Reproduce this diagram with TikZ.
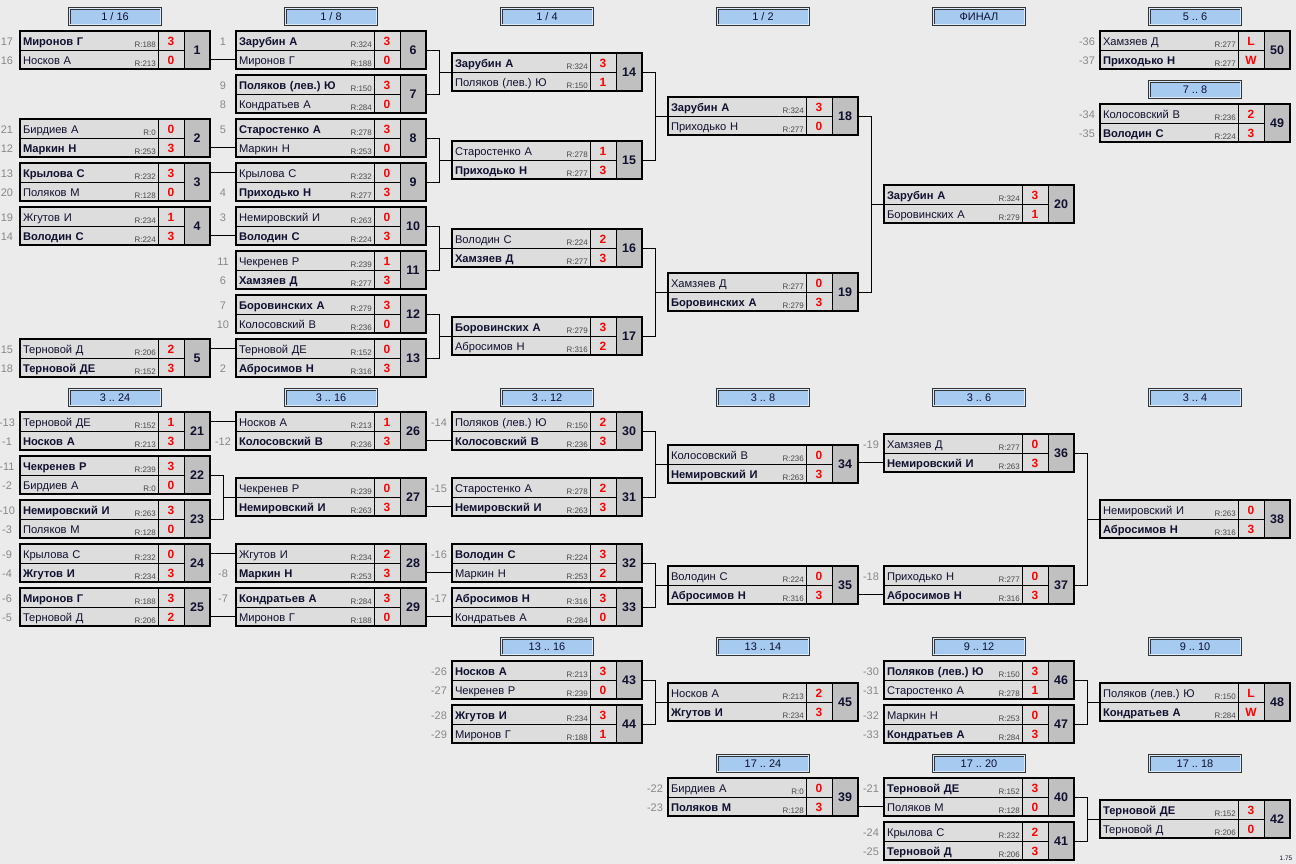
\documentclass[tikz,border=0pt]{standalone}
\usepackage{fontspec}
\setmainfont{Liberation Sans}
\frenchspacing

\definecolor{fondo}{RGB}{235,235,235}
\definecolor{celda}{RGB}{221,221,221}
\definecolor{numgris}{RGB}{192,192,192}
\definecolor{azulronda}{RGB}{166,202,240}
\definecolor{tinta}{RGB}{16,16,48}
\definecolor{siembragris}{RGB}{136,136,136}
\definecolor{rgris}{RGB}{72,72,72}

\tikzset{
  marco/.style={anchor=north west, minimum width=190bp, minimum height=38bp, inner sep=0pt, outer sep=0pt},
  borde/.style={line width=2.2bp, black},
  numero/.style={anchor=north east, draw=black, line width=2bp, fill=numgris, minimum width=26bp, minimum height=38bp,
    inner sep=0pt, outer sep=0pt, text height=9bp, text depth=0bp, font=\bfseries\fontsize{12.5}{13}\selectfont, text=tinta},
  nombre/.style={anchor=north west, draw=black, line width=0.8bp, fill=celda, minimum width=138bp, minimum height=19bp,
    text width=132bp, inner xsep=3bp, inner ysep=0pt, outer sep=0pt, align=left, text height=10bp, text depth=0bp,
    font=\fontsize{11.2}{12}\selectfont, text=tinta},
  puntos/.style={anchor=west, draw=black, line width=0.8bp, fill=celda, minimum width=26bp, minimum height=19bp,
    inner sep=0pt, outer sep=0pt, text height=10bp, text depth=0bp, font=\bfseries\fontsize{12}{13}\selectfont, text=red},
  rating/.style={anchor=base east, xshift=-2bp, yshift=2.5bp, inner sep=0pt, font=\fontsize{8}{8}\selectfont, text=rgris},
  siembra/.style={inner sep=0pt, text height=10bp, text depth=0bp, font=\fontsize{11}{12}\selectfont, text=siembragris},
  ronda/.style={draw=black!80, line width=0.7bp, double=azulronda!40!white, double distance=1.1bp, fill=azulronda,
    minimum width=91.5bp, minimum height=16.5bp, inner sep=0pt, font=\fontsize{11}{12}\selectfont, text=tinta},
  linea/.style={line width=0.9bp, black},
}

\newcommand{\partido}[3]{%
  \node[marco] (m#1) at (#2,#3) {};
  \node[numero] (n#1) at (m#1.north east) {#1};
}
\newcommand{\fila}[6]{%
  \node[nombre] (m#1) at (#2) {#4};
  \node[rating] (m#1r) at (m#1.south east) {R:#5};
  \node[puntos] (m#1s) at (m#1.east) {#6};
  \node[siembra] (m#1p) at ([xshift=-13bp]m#1.west) {#3};
}
\newcommand{\jugadores}[9]{%
  \fila{#1a}{m#1.north west}{#2}{#3}{#4}{#5}%
  \fila{#1b}{m#1.west}{#6}{#7}{#8}{#9}%
}

\begin{document}
\begin{tikzpicture}[x=1bp, y=-1bp]
        % Fondo
        \fill[fondo] (0,0) rectangle (1296,864);
        \useasboundingbox (0,0) rectangle (1296,864);

        % Encabezados de ronda
        \node[ronda] (h116) at (115,16.5) {1 / 16};
        \node[ronda] (h18) at (331,16.5) {1 / 8};
        \node[ronda] (h14) at (547,16.5) {1 / 4};
        \node[ronda] (h12) at (763,16.5) {1 / 2};
        \node[ronda] (hfin) at (979,16.5) {ФИНАЛ};
        \node[ronda] (h56) at (1195,16.5) {5 .. 6};
        \node[ronda] (h78) at (1195,89.5) {7 .. 8};
        \node[ronda] (h324) at (115,397.5) {3 .. 24};
        \node[ronda] (h316) at (331,397.5) {3 .. 16};
        \node[ronda] (h312) at (547,397.5) {3 .. 12};
        \node[ronda] (h38) at (763,397.5) {3 .. 8};
        \node[ronda] (h36) at (979,397.5) {3 .. 6};
        \node[ronda] (h34) at (1195,397.5) {3 .. 4};
        \node[ronda] (h1316) at (547,646.5) {13 .. 16};
        \node[ronda] (h1314) at (763,646.5) {13 .. 14};
        \node[ronda] (h912) at (979,646.5) {9 .. 12};
        \node[ronda] (h910) at (1195,646.5) {9 .. 10};
        \node[ronda] (h1724) at (763,763.5) {17 .. 24};
        \node[ronda] (h1720) at (979,763.5) {17 .. 20};
        \node[ronda] (h1718) at (1195,763.5) {17 .. 18};

        % Cuadro principal
        \partido{1}{20}{31}
        \jugadores{1}{17}{\textbf{Миронов Г}}{188}{3}{16}{Носков А}{213}{0}
        \partido{2}{20}{119}
        \jugadores{2}{21}{Бирдиев А}{0}{0}{12}{\textbf{Маркин Н}}{253}{3}
        \partido{3}{20}{163}
        \jugadores{3}{13}{\textbf{Крылова С}}{232}{3}{20}{Поляков М}{128}{0}
        \partido{4}{20}{207}
        \jugadores{4}{19}{Жгутов И}{234}{1}{14}{\textbf{Володин С}}{224}{3}
        \partido{5}{20}{339}
        \jugadores{5}{15}{Терновой Д}{206}{2}{18}{\textbf{Терновой ДЕ}}{152}{3}

        \partido{6}{236}{31}
        \jugadores{6}{1}{\textbf{Зарубин А}}{324}{3}{}{Миронов Г}{188}{0}
        \partido{7}{236}{75}
        \jugadores{7}{9}{\textbf{Поляков (лев.) Ю}}{150}{3}{8}{Кондратьев А}{284}{0}
        \partido{8}{236}{119}
        \jugadores{8}{5}{\textbf{Старостенко А}}{278}{3}{}{Маркин Н}{253}{0}
        \partido{9}{236}{163}
        \jugadores{9}{}{Крылова С}{232}{0}{4}{\textbf{Приходько Н}}{277}{3}
        \partido{10}{236}{207}
        \jugadores{10}{3}{Немировский И}{263}{0}{}{\textbf{Володин С}}{224}{3}
        \partido{11}{236}{251}
        \jugadores{11}{11}{Чекренев Р}{239}{1}{6}{\textbf{Хамзяев Д}}{277}{3}
        \partido{12}{236}{295}
        \jugadores{12}{7}{\textbf{Боровинских А}}{279}{3}{10}{Колосовский В}{236}{0}
        \partido{13}{236}{339}
        \jugadores{13}{}{Терновой ДЕ}{152}{0}{2}{\textbf{Абросимов Н}}{316}{3}

        \partido{14}{452}{53}
        \jugadores{14}{}{\textbf{Зарубин А}}{324}{3}{}{Поляков (лев.) Ю}{150}{1}
        \partido{15}{452}{141}
        \jugadores{15}{}{Старостенко А}{278}{1}{}{\textbf{Приходько Н}}{277}{3}
        \partido{16}{452}{229}
        \jugadores{16}{}{Володин С}{224}{2}{}{\textbf{Хамзяев Д}}{277}{3}
        \partido{17}{452}{317}
        \jugadores{17}{}{\textbf{Боровинских А}}{279}{3}{}{Абросимов Н}{316}{2}

        \partido{18}{668}{97}
        \jugadores{18}{}{\textbf{Зарубин А}}{324}{3}{}{Приходько Н}{277}{0}
        \partido{19}{668}{273}
        \jugadores{19}{}{Хамзяев Д}{277}{0}{}{\textbf{Боровинских А}}{279}{3}
        \partido{20}{884}{185}
        \jugadores{20}{}{\textbf{Зарубин А}}{324}{3}{}{Боровинских А}{279}{1}

        \partido{50}{1100}{31}
        \jugadores{50}{-36}{Хамзяев Д}{277}{L}{-37}{\textbf{Приходько Н}}{277}{W}
        \partido{49}{1100}{104}
        \jugadores{49}{-34}{Колосовский В}{236}{2}{-35}{\textbf{Володин С}}{224}{3}

        % Consolacion 3 .. 24
        \partido{21}{20}{412}
        \jugadores{21}{-13}{Терновой ДЕ}{152}{1}{-1}{\textbf{Носков А}}{213}{3}
        \partido{22}{20}{456}
        \jugadores{22}{-11}{\textbf{Чекренев Р}}{239}{3}{-2}{Бирдиев А}{0}{0}
        \partido{23}{20}{500}
        \jugadores{23}{-10}{\textbf{Немировский И}}{263}{3}{-3}{Поляков М}{128}{0}
        \partido{24}{20}{544}
        \jugadores{24}{-9}{Крылова С}{232}{0}{-4}{\textbf{Жгутов И}}{234}{3}
        \partido{25}{20}{588}
        \jugadores{25}{-6}{\textbf{Миронов Г}}{188}{3}{-5}{Терновой Д}{206}{2}

        \partido{26}{236}{412}
        \jugadores{26}{}{Носков А}{213}{1}{-12}{\textbf{Колосовский В}}{236}{3}
        \partido{27}{236}{478}
        \jugadores{27}{}{Чекренев Р}{239}{0}{}{\textbf{Немировский И}}{263}{3}
        \partido{28}{236}{544}
        \jugadores{28}{}{Жгутов И}{234}{2}{-8}{\textbf{Маркин Н}}{253}{3}
        \partido{29}{236}{588}
        \jugadores{29}{-7}{\textbf{Кондратьев А}}{284}{3}{}{Миронов Г}{188}{0}

        \partido{30}{452}{412}
        \jugadores{30}{-14}{Поляков (лев.) Ю}{150}{2}{}{\textbf{Колосовский В}}{236}{3}
        \partido{31}{452}{478}
        \jugadores{31}{-15}{Старостенко А}{278}{2}{}{\textbf{Немировский И}}{263}{3}
        \partido{32}{452}{544}
        \jugadores{32}{-16}{\textbf{Володин С}}{224}{3}{}{Маркин Н}{253}{2}
        \partido{33}{452}{588}
        \jugadores{33}{-17}{\textbf{Абросимов Н}}{316}{3}{}{Кондратьев А}{284}{0}

        \partido{34}{668}{445}
        \jugadores{34}{}{Колосовский В}{236}{0}{}{\textbf{Немировский И}}{263}{3}
        \partido{35}{668}{566}
        \jugadores{35}{}{Володин С}{224}{0}{}{\textbf{Абросимов Н}}{316}{3}

        \partido{36}{884}{434}
        \jugadores{36}{-19}{Хамзяев Д}{277}{0}{}{\textbf{Немировский И}}{263}{3}
        \partido{37}{884}{566}
        \jugadores{37}{-18}{Приходько Н}{277}{0}{}{\textbf{Абросимов Н}}{316}{3}
        \partido{38}{1100}{500}
        \jugadores{38}{}{Немировский И}{263}{0}{}{\textbf{Абросимов Н}}{316}{3}

        % Puestos 9 .. 16
        \partido{43}{452}{661}
        \jugadores{43}{-26}{\textbf{Носков А}}{213}{3}{-27}{Чекренев Р}{239}{0}
        \partido{44}{452}{705}
        \jugadores{44}{-28}{\textbf{Жгутов И}}{234}{3}{-29}{Миронов Г}{188}{1}
        \partido{45}{668}{683}
        \jugadores{45}{}{Носков А}{213}{2}{}{\textbf{Жгутов И}}{234}{3}
        \partido{46}{884}{661}
        \jugadores{46}{-30}{\textbf{Поляков (лев.) Ю}}{150}{3}{-31}{Старостенко А}{278}{1}
        \partido{47}{884}{705}
        \jugadores{47}{-32}{Маркин Н}{253}{0}{-33}{\textbf{Кондратьев А}}{284}{3}
        \partido{48}{1100}{683}
        \jugadores{48}{}{Поляков (лев.) Ю}{150}{L}{}{\textbf{Кондратьев А}}{284}{W}

        % Puestos 17 .. 24
        \partido{39}{668}{778}
        \jugadores{39}{-22}{Бирдиев А}{0}{0}{-23}{\textbf{Поляков М}}{128}{3}
        \partido{40}{884}{778}
        \jugadores{40}{-21}{\textbf{Терновой ДЕ}}{152}{3}{}{Поляков М}{128}{0}
        \partido{41}{884}{822}
        \jugadores{41}{-24}{Крылова С}{232}{2}{-25}{\textbf{Терновой Д}}{206}{3}
        \partido{42}{1100}{800}
        \jugadores{42}{}{\textbf{Терновой ДЕ}}{152}{3}{}{Терновой Д}{206}{0}

        % Marcos gruesos
        \foreach \i in {1,...,50}
          \draw[borde] (m\i.north west) rectangle (m\i.south east);

        % Conexiones directas
        \foreach \s/\t in {1/6b, 2/8b, 3/9a, 4/10b, 5/13a, 21/26a, 24/28a, 25/29b, 26/30b, 27/31b,
                           28/32b, 29/33b, 34/36b, 35/37b, 39/40b}
          \draw[linea] (m\t.west -| n\s.east) -- (m\t.west);

        % Horquillas
        \foreach \a/\b/\t in {6/7/14, 8/9/15, 10/11/16, 12/13/17, 14/15/18, 16/17/19, 18/19/20, 22/23/27,
                              30/31/34, 32/33/35, 36/37/38, 43/44/45, 46/47/48, 40/41/42} {
          \draw[linea] (n\a.east) -- ++(13,0) |- (m\t.west);
          \draw[linea] (n\b.east) -- ++(13,0) |- (m\t.west);
        }

        \node[font=\fontsize{6.5}{7}\selectfont, text=tinta, inner sep=0pt] (ver) at (1286,858.5) {1.75};
\end{tikzpicture}
\end{document}
